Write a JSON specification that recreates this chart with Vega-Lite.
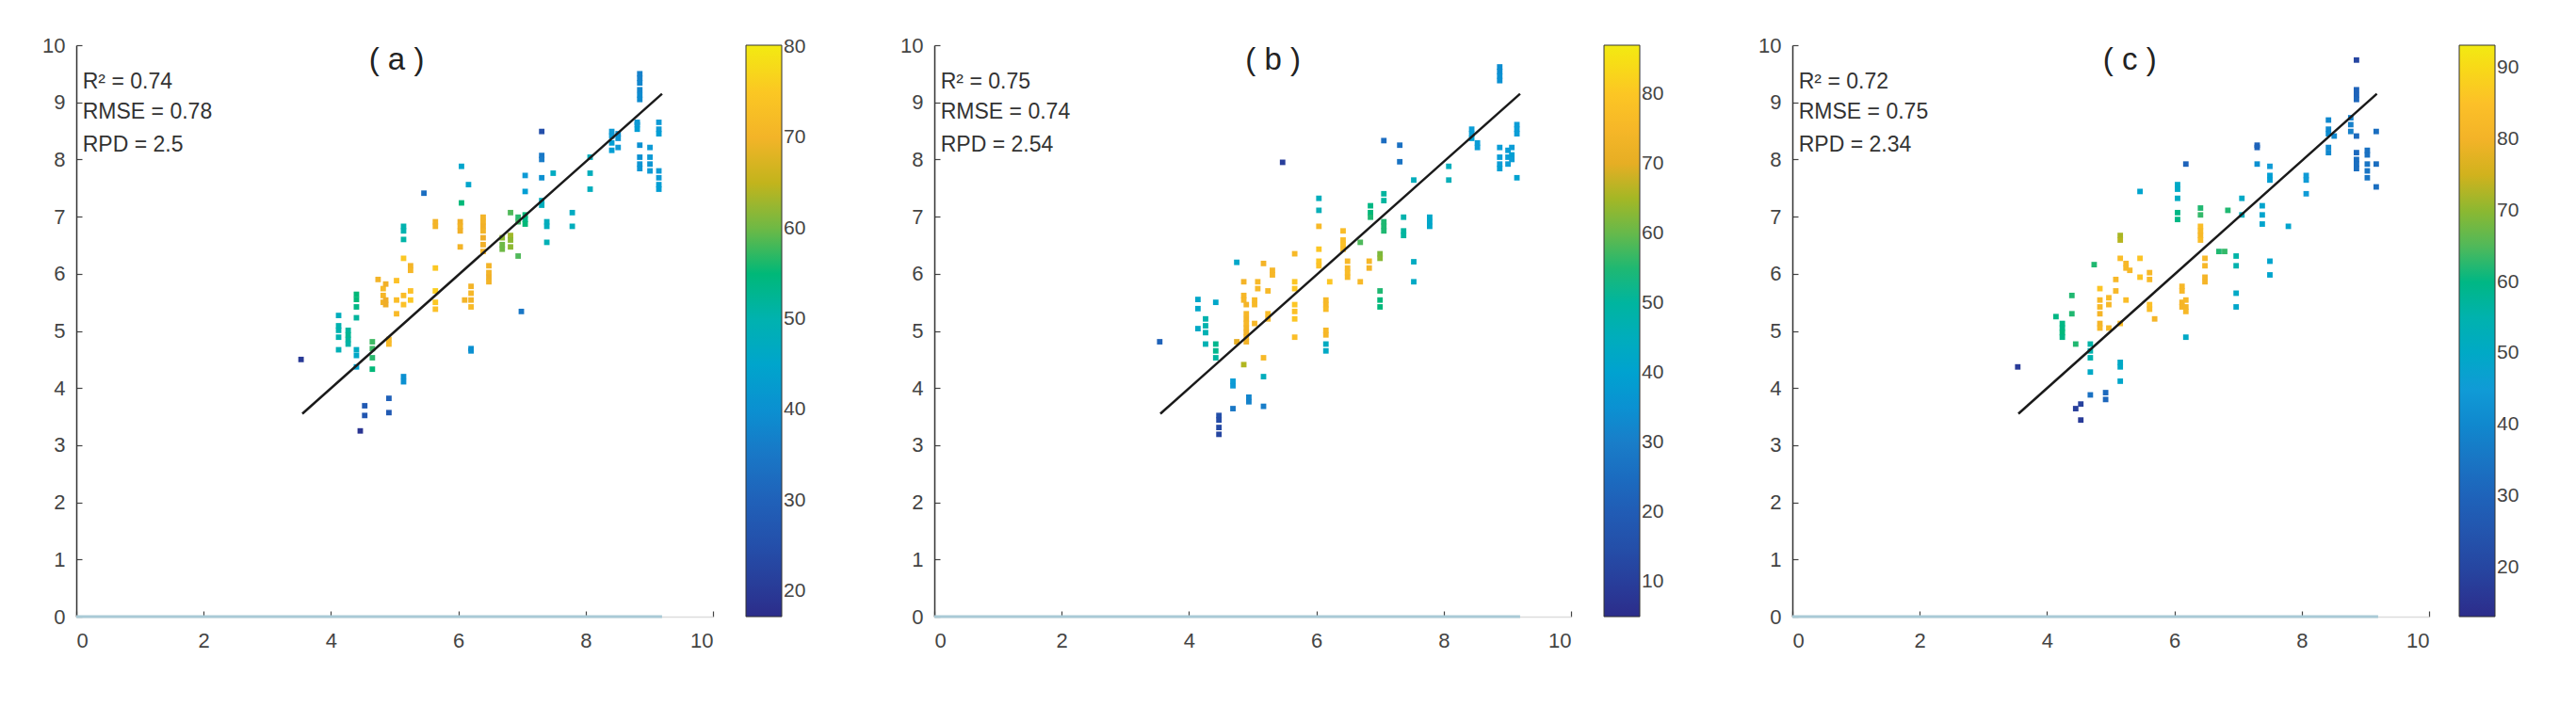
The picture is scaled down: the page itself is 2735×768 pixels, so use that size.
{
 "$schema": "https://vega.github.io/schema/vega-lite/v6.json",
 "background": "white",
 "padding": {"left": 44, "top": 37, "right": 5, "bottom": 5},
 "config": {
  "view": {"stroke": null},
  "font": "Liberation Sans",
  "axis": {"grid": false, "title": null, "labelFont": "Liberation Sans", "labelFontSize": 22, "labelColor": "#444", "tickColor": "#444", "tickSize": -6, "tickWidth": 1.2, "domainWidth": 1.5, "format": "d"},
  "axisX": {"domainColor": "#dcdcdc", "labelPadding": 21},
  "axisY": {"domainColor": "#333", "labelPadding": 18},
  "legend": {"orient": "none", "legendY": 0, "direction": "vertical", "gradientLength": 607, "gradientThickness": 38, "labelFontSize": 21, "labelFont": "Liberation Sans", "labelColor": "#444", "labelOffset": 8, "gradientStrokeColor": "#333", "gradientStrokeWidth": 1, "padding": 0}
 },
 "datasets": {
  "a": [
   {"x":3.53,"y":4.50,"v":20},
   {"x":4.12,"y":5.27,"v":48},{"x":4.12,"y":5.09,"v":50},{"x":4.12,"y":5.01,"v":50},{"x":4.12,"y":4.89,"v":50},{"x":4.12,"y":4.67,"v":49},
   {"x":4.27,"y":5.01,"v":52},{"x":4.27,"y":4.85,"v":52},{"x":4.27,"y":4.77,"v":51},{"x":4.27,"y":4.93,"v":53},
   {"x":4.40,"y":5.64,"v":55},{"x":4.40,"y":5.55,"v":55},{"x":4.40,"y":5.42,"v":54},{"x":4.40,"y":5.23,"v":52},{"x":4.40,"y":4.67,"v":47},{"x":4.40,"y":4.57,"v":46},{"x":4.40,"y":4.37,"v":44},
   {"x":4.46,"y":3.25,"v":19},
   {"x":4.53,"y":3.69,"v":28},{"x":4.53,"y":3.52,"v":27},
   {"x":4.65,"y":4.81,"v":57},{"x":4.65,"y":4.69,"v":57},{"x":4.65,"y":4.53,"v":56},{"x":4.65,"y":4.33,"v":55},
   {"x":4.74,"y":5.90,"v":70},
   {"x":4.82,"y":5.74,"v":72},{"x":4.82,"y":5.62,"v":71},{"x":4.82,"y":5.50,"v":70},
   {"x":4.86,"y":5.82,"v":69},{"x":4.86,"y":5.54,"v":68},{"x":4.86,"y":5.46,"v":68},
   {"x":4.91,"y":4.85,"v":72},{"x":4.91,"y":4.77,"v":72},{"x":4.91,"y":3.82,"v":30},{"x":4.91,"y":3.57,"v":28},
   {"x":5.03,"y":5.88,"v":74},{"x":5.03,"y":5.54,"v":73},{"x":5.03,"y":5.30,"v":72},
   {"x":5.14,"y":6.83,"v":50},{"x":5.14,"y":6.75,"v":50},{"x":5.14,"y":6.60,"v":51},{"x":5.14,"y":6.27,"v":75},{"x":5.14,"y":5.62,"v":73},{"x":5.14,"y":5.46,"v":74},{"x":5.14,"y":4.20,"v":40},{"x":5.14,"y":4.11,"v":40},
   {"x":5.25,"y":6.14,"v":70},{"x":5.25,"y":6.06,"v":71},{"x":5.25,"y":5.70,"v":74},{"x":5.25,"y":5.54,"v":75},
   {"x":5.46,"y":7.41,"v":33},
   {"x":5.64,"y":6.91,"v":70},{"x":5.64,"y":6.83,"v":70},{"x":5.64,"y":6.10,"v":75},{"x":5.64,"y":5.70,"v":76},{"x":5.64,"y":5.50,"v":75},{"x":5.64,"y":5.38,"v":74},
   {"x":6.03,"y":6.91,"v":69},{"x":6.03,"y":6.83,"v":70},{"x":6.03,"y":6.75,"v":69},{"x":6.03,"y":6.47,"v":70},
   {"x":6.05,"y":7.88,"v":45},{"x":6.05,"y":7.24,"v":55},
   {"x":6.10,"y":5.54,"v":70},
   {"x":6.16,"y":7.56,"v":45},
   {"x":6.20,"y":5.78,"v":70},{"x":6.20,"y":5.66,"v":71},{"x":6.20,"y":5.54,"v":70},{"x":6.20,"y":5.42,"v":72},{"x":6.20,"y":4.69,"v":40},{"x":6.20,"y":4.65,"v":40},
   {"x":6.39,"y":6.99,"v":70},{"x":6.39,"y":6.91,"v":70},{"x":6.39,"y":6.83,"v":69},{"x":6.39,"y":6.75,"v":70},{"x":6.39,"y":6.63,"v":68},{"x":6.39,"y":6.51,"v":69},{"x":6.39,"y":6.39,"v":70},
   {"x":6.48,"y":6.14,"v":70},{"x":6.48,"y":6.02,"v":70},{"x":6.48,"y":5.94,"v":69},{"x":6.48,"y":5.86,"v":70},
   {"x":6.69,"y":6.51,"v":60},{"x":6.69,"y":6.43,"v":60},{"x":6.69,"y":6.63,"v":62},
   {"x":6.82,"y":6.67,"v":63},{"x":6.82,"y":6.59,"v":62},{"x":6.82,"y":6.47,"v":62},{"x":6.82,"y":7.07,"v":58},
   {"x":6.94,"y":6.31,"v":58},{"x":6.94,"y":6.99,"v":56},{"x":6.94,"y":6.91,"v":57},
   {"x":6.99,"y":5.34,"v":35},
   {"x":7.05,"y":7.72,"v":42},{"x":7.05,"y":7.44,"v":43},{"x":7.05,"y":7.03,"v":55},{"x":7.05,"y":6.95,"v":54},{"x":7.05,"y":6.87,"v":55},
   {"x":7.31,"y":8.49,"v":25},{"x":7.31,"y":8.07,"v":35},{"x":7.31,"y":8.00,"v":36},{"x":7.31,"y":7.68,"v":40},{"x":7.31,"y":7.28,"v":48},{"x":7.31,"y":7.20,"v":48},
   {"x":7.39,"y":6.91,"v":48},{"x":7.39,"y":6.83,"v":48},{"x":7.39,"y":6.55,"v":49},
   {"x":7.49,"y":7.76,"v":47},
   {"x":7.79,"y":7.07,"v":47},{"x":7.79,"y":6.83,"v":48},
   {"x":8.07,"y":8.04,"v":48},{"x":8.07,"y":7.76,"v":48},{"x":8.07,"y":7.48,"v":48},
   {"x":8.41,"y":8.49,"v":42},{"x":8.41,"y":8.41,"v":42},{"x":8.41,"y":8.29,"v":43},{"x":8.41,"y":8.16,"v":43},
   {"x":8.51,"y":8.45,"v":40},{"x":8.51,"y":8.37,"v":41},{"x":8.51,"y":8.21,"v":42},
   {"x":8.81,"y":8.65,"v":42},{"x":8.81,"y":8.61,"v":42},{"x":8.81,"y":8.53,"v":43},
   {"x":8.85,"y":9.50,"v":37},{"x":8.85,"y":9.42,"v":37},{"x":8.85,"y":9.34,"v":38},{"x":8.85,"y":9.22,"v":38},{"x":8.85,"y":9.13,"v":39},{"x":8.85,"y":9.05,"v":39},{"x":8.85,"y":8.25,"v":40},{"x":8.85,"y":8.04,"v":40},{"x":8.85,"y":7.92,"v":41},{"x":8.85,"y":7.84,"v":41},
   {"x":9.01,"y":8.21,"v":42},{"x":9.01,"y":8.04,"v":42},{"x":9.01,"y":7.92,"v":41},{"x":9.01,"y":7.80,"v":42},
   {"x":9.15,"y":8.65,"v":42},{"x":9.15,"y":8.53,"v":42},{"x":9.15,"y":8.45,"v":43},{"x":9.15,"y":7.80,"v":42},{"x":9.15,"y":7.68,"v":42},{"x":9.15,"y":7.56,"v":43},{"x":9.15,"y":7.48,"v":43}
  ],
  "b": [
   {"x":3.54,"y":4.81,"v":22},
   {"x":4.14,"y":5.55,"v":42},{"x":4.14,"y":5.39,"v":42},{"x":4.14,"y":5.04,"v":43},
   {"x":4.26,"y":5.21,"v":48},{"x":4.26,"y":5.09,"v":48},{"x":4.26,"y":4.97,"v":47},{"x":4.26,"y":4.77,"v":47},
   {"x":4.42,"y":5.50,"v":42},{"x":4.42,"y":4.77,"v":52},{"x":4.42,"y":4.65,"v":52},{"x":4.42,"y":4.53,"v":50},
   {"x":4.47,"y":3.52,"v":15},{"x":4.47,"y":3.44,"v":14},{"x":4.47,"y":3.31,"v":13},{"x":4.47,"y":3.19,"v":12},
   {"x":4.69,"y":4.12,"v":38},{"x":4.69,"y":4.04,"v":37},{"x":4.69,"y":3.64,"v":28},
   {"x":4.75,"y":6.20,"v":42},{"x":4.75,"y":4.81,"v":70},
   {"x":4.86,"y":4.41,"v":66},{"x":4.86,"y":5.86,"v":74},{"x":4.86,"y":5.62,"v":75},{"x":4.86,"y":5.54,"v":75},
   {"x":4.90,"y":5.46,"v":74},{"x":4.90,"y":5.30,"v":75},{"x":4.90,"y":5.21,"v":74},{"x":4.90,"y":5.13,"v":75},{"x":4.90,"y":5.05,"v":74},{"x":4.90,"y":4.97,"v":73},{"x":4.90,"y":4.89,"v":74},{"x":4.90,"y":4.81,"v":73},
   {"x":4.94,"y":3.84,"v":32},{"x":4.94,"y":3.76,"v":31},
   {"x":5.03,"y":5.54,"v":76},{"x":5.03,"y":5.46,"v":76},{"x":5.03,"y":5.13,"v":75},
   {"x":5.08,"y":5.86,"v":76},{"x":5.08,"y":5.74,"v":76},
   {"x":5.17,"y":6.18,"v":74},{"x":5.17,"y":4.53,"v":76},{"x":5.17,"y":4.20,"v":45},{"x":5.17,"y":3.68,"v":30},
   {"x":5.24,"y":5.70,"v":76},{"x":5.24,"y":5.30,"v":77},{"x":5.24,"y":5.21,"v":76},
   {"x":5.31,"y":6.06,"v":75},{"x":5.31,"y":5.98,"v":75},
   {"x":5.47,"y":7.95,"v":10},
   {"x":5.66,"y":6.35,"v":76},{"x":5.66,"y":5.86,"v":80},{"x":5.66,"y":5.74,"v":80},{"x":5.66,"y":5.46,"v":80},{"x":5.66,"y":5.34,"v":79},{"x":5.66,"y":5.21,"v":80},{"x":5.66,"y":4.89,"v":78},
   {"x":6.04,"y":7.32,"v":45},{"x":6.04,"y":7.11,"v":46},{"x":6.04,"y":6.83,"v":76},{"x":6.04,"y":6.43,"v":80},{"x":6.04,"y":6.22,"v":80},{"x":6.04,"y":6.14,"v":79},
   {"x":6.15,"y":5.54,"v":76},{"x":6.15,"y":5.46,"v":76},{"x":6.15,"y":5.38,"v":77},{"x":6.15,"y":5.01,"v":76},{"x":6.15,"y":4.93,"v":75},{"x":6.15,"y":4.77,"v":44},{"x":6.15,"y":4.65,"v":43},
   {"x":6.21,"y":5.86,"v":80},
   {"x":6.42,"y":6.75,"v":77},{"x":6.42,"y":6.59,"v":78},{"x":6.42,"y":6.51,"v":79},{"x":6.42,"y":6.43,"v":78},
   {"x":6.49,"y":6.22,"v":76},{"x":6.49,"y":6.10,"v":76},{"x":6.49,"y":6.02,"v":77},{"x":6.49,"y":5.94,"v":76},
   {"x":6.69,"y":6.55,"v":58},{"x":6.69,"y":5.86,"v":76},
   {"x":6.83,"y":6.22,"v":75},{"x":6.83,"y":6.10,"v":74},
   {"x":6.85,"y":7.19,"v":53},{"x":6.85,"y":7.07,"v":54},{"x":6.85,"y":6.99,"v":55},
   {"x":7.00,"y":6.35,"v":62},{"x":7.00,"y":6.27,"v":63},{"x":7.00,"y":5.70,"v":55},{"x":7.00,"y":5.54,"v":54},{"x":7.00,"y":5.42,"v":54},
   {"x":7.06,"y":8.33,"v":25},{"x":7.06,"y":7.40,"v":50},{"x":7.06,"y":7.28,"v":50},{"x":7.06,"y":6.91,"v":55},{"x":7.06,"y":6.83,"v":55},{"x":7.06,"y":6.75,"v":55},
   {"x":7.31,"y":8.25,"v":26},{"x":7.31,"y":7.96,"v":27},
   {"x":7.37,"y":6.99,"v":48},{"x":7.37,"y":6.75,"v":50},{"x":7.37,"y":6.67,"v":50},
   {"x":7.53,"y":7.64,"v":45},{"x":7.53,"y":6.21,"v":44},{"x":7.53,"y":5.86,"v":43},
   {"x":7.78,"y":6.99,"v":42},{"x":7.78,"y":6.91,"v":42},{"x":7.78,"y":6.83,"v":42},
   {"x":8.08,"y":7.88,"v":45},{"x":8.08,"y":7.64,"v":46},
   {"x":8.44,"y":8.53,"v":38},{"x":8.44,"y":8.45,"v":38},{"x":8.44,"y":8.37,"v":39},
   {"x":8.53,"y":8.29,"v":38},{"x":8.53,"y":8.21,"v":38},
   {"x":8.88,"y":9.62,"v":34},{"x":8.88,"y":9.54,"v":34},{"x":8.88,"y":9.46,"v":35},{"x":8.88,"y":9.38,"v":35},{"x":8.88,"y":8.21,"v":38},{"x":8.88,"y":8.04,"v":38},{"x":8.88,"y":7.92,"v":38},{"x":8.88,"y":7.84,"v":39},
   {"x":9.01,"y":8.16,"v":38},{"x":9.01,"y":8.04,"v":38},{"x":9.01,"y":7.92,"v":38},
   {"x":9.07,"y":8.21,"v":38},{"x":9.07,"y":8.08,"v":39},{"x":9.07,"y":8.00,"v":38},
   {"x":9.15,"y":8.61,"v":38},{"x":9.15,"y":8.53,"v":38},{"x":9.15,"y":8.45,"v":38},{"x":9.15,"y":7.68,"v":40}
  ],
  "c": [
   {"x":3.54,"y":4.37,"v":17},
   {"x":4.14,"y":5.25,"v":60},
   {"x":4.24,"y":5.13,"v":60},{"x":4.24,"y":5.05,"v":60},{"x":4.24,"y":4.97,"v":61},{"x":4.24,"y":4.89,"v":60},
   {"x":4.39,"y":5.62,"v":62},{"x":4.39,"y":5.30,"v":62},
   {"x":4.45,"y":4.77,"v":62},{"x":4.45,"y":3.64,"v":18},
   {"x":4.53,"y":3.72,"v":19},{"x":4.53,"y":3.44,"v":17},
   {"x":4.68,"y":4.77,"v":56},{"x":4.68,"y":4.65,"v":55},{"x":4.68,"y":4.53,"v":55},{"x":4.68,"y":4.28,"v":50},{"x":4.68,"y":3.88,"v":34},
   {"x":4.74,"y":6.16,"v":62},
   {"x":4.83,"y":5.74,"v":86},{"x":4.83,"y":5.54,"v":82},{"x":4.83,"y":5.42,"v":82},{"x":4.83,"y":5.30,"v":81},{"x":4.83,"y":5.13,"v":81},{"x":4.83,"y":5.05,"v":82},
   {"x":4.92,"y":3.92,"v":32},{"x":4.92,"y":3.80,"v":31},
   {"x":4.97,"y":5.58,"v":83},{"x":4.97,"y":5.46,"v":82},{"x":4.97,"y":5.05,"v":82},
   {"x":5.08,"y":5.90,"v":82},{"x":5.08,"y":5.70,"v":82},
   {"x":5.15,"y":6.67,"v":72},{"x":5.15,"y":6.59,"v":73},{"x":5.15,"y":6.27,"v":84},{"x":5.15,"y":5.13,"v":84},{"x":5.15,"y":4.45,"v":50},{"x":5.15,"y":4.37,"v":50},{"x":5.15,"y":4.12,"v":49},
   {"x":5.24,"y":6.18,"v":82},{"x":5.24,"y":6.10,"v":82},{"x":5.24,"y":5.54,"v":84},
   {"x":5.30,"y":6.06,"v":82},
   {"x":5.46,"y":7.44,"v":48},{"x":5.46,"y":6.27,"v":86},{"x":5.46,"y":5.94,"v":86},
   {"x":5.61,"y":6.02,"v":82},{"x":5.61,"y":5.90,"v":83},{"x":5.61,"y":5.46,"v":85},{"x":5.61,"y":5.38,"v":84},
   {"x":5.69,"y":5.21,"v":81},
   {"x":6.05,"y":7.56,"v":50},{"x":6.05,"y":7.48,"v":50},{"x":6.05,"y":7.32,"v":51},{"x":6.05,"y":7.07,"v":60},{"x":6.05,"y":6.95,"v":60},
   {"x":6.12,"y":5.78,"v":82},{"x":6.12,"y":5.70,"v":82},{"x":6.12,"y":5.50,"v":81},{"x":6.12,"y":5.42,"v":81},
   {"x":6.18,"y":7.92,"v":30},{"x":6.18,"y":5.54,"v":82},{"x":6.18,"y":5.42,"v":81},{"x":6.18,"y":5.34,"v":82},{"x":6.18,"y":4.89,"v":50},
   {"x":6.41,"y":7.15,"v":62},{"x":6.41,"y":7.03,"v":63},{"x":6.41,"y":6.83,"v":84},{"x":6.41,"y":6.75,"v":83},{"x":6.41,"y":6.67,"v":82},{"x":6.41,"y":6.59,"v":84},
   {"x":6.48,"y":6.27,"v":82},{"x":6.48,"y":6.14,"v":82},{"x":6.48,"y":5.94,"v":81},{"x":6.48,"y":5.86,"v":81},
   {"x":6.70,"y":6.39,"v":62},{"x":6.79,"y":6.39,"v":63},{"x":6.84,"y":7.11,"v":62},
   {"x":6.97,"y":6.31,"v":56},{"x":6.97,"y":6.14,"v":55},{"x":6.97,"y":5.66,"v":50},{"x":6.97,"y":5.42,"v":49},
   {"x":7.06,"y":7.32,"v":50},{"x":7.06,"y":7.03,"v":52},
   {"x":7.30,"y":8.25,"v":30},{"x":7.30,"y":8.21,"v":30},{"x":7.30,"y":7.92,"v":42},
   {"x":7.38,"y":7.19,"v":48},{"x":7.38,"y":7.03,"v":48},{"x":7.38,"y":6.87,"v":48},
   {"x":7.50,"y":7.88,"v":45},{"x":7.50,"y":7.72,"v":46},{"x":7.50,"y":7.64,"v":46},{"x":7.50,"y":6.22,"v":48},{"x":7.50,"y":5.98,"v":48},
   {"x":7.79,"y":6.83,"v":48},
   {"x":8.07,"y":7.72,"v":45},{"x":8.07,"y":7.64,"v":45},{"x":8.07,"y":7.40,"v":45},
   {"x":8.42,"y":8.69,"v":40},{"x":8.42,"y":8.53,"v":40},{"x":8.42,"y":8.45,"v":41},{"x":8.42,"y":8.21,"v":40},{"x":8.42,"y":8.12,"v":40},
   {"x":8.51,"y":8.41,"v":40},
   {"x":8.77,"y":8.73,"v":38},{"x":8.77,"y":8.61,"v":38},{"x":8.77,"y":8.49,"v":38},
   {"x":8.86,"y":9.74,"v":20},{"x":8.86,"y":9.22,"v":30},{"x":8.86,"y":9.13,"v":30},{"x":8.86,"y":9.05,"v":31},{"x":8.86,"y":8.41,"v":32},{"x":8.86,"y":8.12,"v":32},{"x":8.86,"y":8.00,"v":33},{"x":8.86,"y":7.92,"v":33},{"x":8.86,"y":7.84,"v":33},
   {"x":9.03,"y":8.16,"v":34},{"x":9.03,"y":8.08,"v":34},{"x":9.03,"y":7.92,"v":35},{"x":9.03,"y":7.80,"v":35},{"x":9.03,"y":7.68,"v":35},
   {"x":9.17,"y":8.49,"v":33},{"x":9.17,"y":7.92,"v":33},{"x":9.17,"y":7.52,"v":33}
  ]
 },
 "bounds": "flush",
 "spacing": 235,
 "resolve": {"scale": {"color": "independent", "x": "independent", "y": "independent"}},
 "hconcat": [
  {
   "width": 676, "height": 607,
   "encoding": {
    "x": {"field": "x", "type": "quantitative", "scale": {"domain": [0, 10], "nice": false, "zero": false}, "axis": {"values": [0, 2, 4, 6, 8, 10], "format": "d"}},
    "y": {"field": "y", "type": "quantitative", "scale": {"domain": [0, 10], "nice": false, "zero": false}, "axis": {"values": [0, 1, 2, 3, 4, 5, 6, 7, 8, 9, 10], "format": "d"}}
   },
   "layer": [
    {"data": {"values": [{"x": 0, "y": 0}, {"x": 9.2, "y": 0}]}, "mark": {"type": "line", "color": "#a9cad6", "strokeWidth": 3}},
    {"data": {"name": "a"}, "mark": {"type": "square", "size": 34, "opacity": 1},
     "encoding": {"color": {"field": "v", "type": "quantitative",
       "scale": {"domain": [17.2, 80.2], "range": ["#2c2c8a", "#254aa5", "#2060b8", "#1a7cc8", "#109cd6", "#0aafb8", "#00b878", "#80b838", "#eeac28", "#fcc028", "#f2ea12"]},
       "legend": {"title": null, "legendX": 711, "values": [20, 30, 40, 50, 60, 70, 80]}}}},
    {"data": {"values": [{"x": 3.55, "y": 3.55}, {"x": 9.2, "y": 9.15}]}, "mark": {"type": "line", "color": "#1a1a1a", "strokeWidth": 2.5}},
    {"data": {"values": [{"x": 0.1, "y": 9.24, "t": "R² = 0.74"}, {"x": 0.1, "y": 8.71, "t": "RMSE = 0.78"}, {"x": 0.1, "y": 8.14, "t": "RPD = 2.5"}]},
     "mark": {"type": "text", "align": "left", "baseline": "alphabetic", "fontSize": 23, "color": "#333"},
     "encoding": {"text": {"field": "t"}}},
    {"data": {"values": [{"x": 5.03, "y": 9.74, "t": "( a )"}]},
     "mark": {"type": "text", "align": "center", "baseline": "middle", "fontSize": 33, "color": "#222"},
     "encoding": {"text": {"field": "t"}}}
   ]
  },
  {
   "width": 676, "height": 607,
   "encoding": {
    "x": {"field": "x", "type": "quantitative", "scale": {"domain": [0, 10], "nice": false, "zero": false}, "axis": {"values": [0, 2, 4, 6, 8, 10], "format": "d"}},
    "y": {"field": "y", "type": "quantitative", "scale": {"domain": [0, 10], "nice": false, "zero": false}, "axis": {"values": [0, 1, 2, 3, 4, 5, 6, 7, 8, 9, 10], "format": "d"}}
   },
   "layer": [
    {"data": {"values": [{"x": 0, "y": 0}, {"x": 9.2, "y": 0}]}, "mark": {"type": "line", "color": "#a9cad6", "strokeWidth": 3}},
    {"data": {"name": "b"}, "mark": {"type": "square", "size": 34, "opacity": 1},
     "encoding": {"color": {"field": "v", "type": "quantitative",
       "scale": {"domain": [5, 87], "range": ["#2c2c8a", "#254aa5", "#2060b8", "#1a7cc8", "#109cd6", "#0aafb8", "#00b878", "#80b838", "#eeac28", "#fcc028", "#f2ea12"]},
       "legend": {"title": null, "legendX": 711, "values": [10, 20, 30, 40, 50, 60, 70, 80]}}}},
    {"data": {"values": [{"x": 3.55, "y": 3.55}, {"x": 9.2, "y": 9.15}]}, "mark": {"type": "line", "color": "#1a1a1a", "strokeWidth": 2.5}},
    {"data": {"values": [{"x": 0.1, "y": 9.24, "t": "R² = 0.75"}, {"x": 0.1, "y": 8.71, "t": "RMSE = 0.74"}, {"x": 0.1, "y": 8.14, "t": "RPD = 2.54"}]},
     "mark": {"type": "text", "align": "left", "baseline": "alphabetic", "fontSize": 23, "color": "#333"},
     "encoding": {"text": {"field": "t"}}},
    {"data": {"values": [{"x": 5.32, "y": 9.74, "t": "( b )"}]},
     "mark": {"type": "text", "align": "center", "baseline": "middle", "fontSize": 33, "color": "#222"},
     "encoding": {"text": {"field": "t"}}}
   ]
  },
  {
   "width": 676, "height": 607,
   "encoding": {
    "x": {"field": "x", "type": "quantitative", "scale": {"domain": [0, 10], "nice": false, "zero": false}, "axis": {"values": [0, 2, 4, 6, 8, 10], "format": "d"}},
    "y": {"field": "y", "type": "quantitative", "scale": {"domain": [0, 10], "nice": false, "zero": false}, "axis": {"values": [0, 1, 2, 3, 4, 5, 6, 7, 8, 9, 10], "format": "d"}}
   },
   "layer": [
    {"data": {"values": [{"x": 0, "y": 0}, {"x": 9.2, "y": 0}]}, "mark": {"type": "line", "color": "#a9cad6", "strokeWidth": 3}},
    {"data": {"name": "c"}, "mark": {"type": "square", "size": 34, "opacity": 1},
     "encoding": {"color": {"field": "v", "type": "quantitative",
       "scale": {"domain": [13.1, 93.2], "range": ["#2c2c8a", "#254aa5", "#2060b8", "#1a7cc8", "#109cd6", "#0aafb8", "#00b878", "#80b838", "#eeac28", "#fcc028", "#f2ea12"]},
       "legend": {"title": null, "legendX": 708, "values": [20, 30, 40, 50, 60, 70, 80, 90]}}}},
    {"data": {"values": [{"x": 3.55, "y": 3.55}, {"x": 9.18, "y": 9.15}]}, "mark": {"type": "line", "color": "#1a1a1a", "strokeWidth": 2.5}},
    {"data": {"values": [{"x": 0.1, "y": 9.24, "t": "R² = 0.72"}, {"x": 0.1, "y": 8.71, "t": "RMSE = 0.75"}, {"x": 0.1, "y": 8.14, "t": "RPD = 2.34"}]},
     "mark": {"type": "text", "align": "left", "baseline": "alphabetic", "fontSize": 23, "color": "#333"},
     "encoding": {"text": {"field": "t"}}},
    {"data": {"values": [{"x": 5.3, "y": 9.74, "t": "( c )"}]},
     "mark": {"type": "text", "align": "center", "baseline": "middle", "fontSize": 33, "color": "#222"},
     "encoding": {"text": {"field": "t"}}}
   ]
  }
 ]
}
